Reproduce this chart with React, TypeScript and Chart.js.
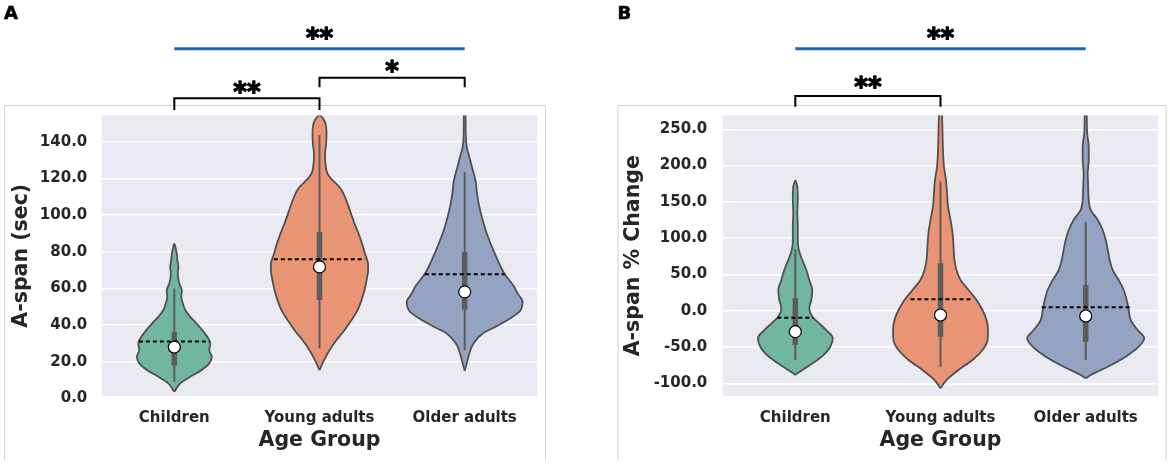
import React, { useEffect, useRef } from "react";
import { Chart, registerables } from "chart.js";

Chart.register(...registerables);

// ---------------- data ----------------
const CATEGORIES = ["Children", "Young adults", "Older adults"];
const FILL_COLORS = ["#71b6a1", "#e99575", "#95a3c3"];

const A_TICKS = [0, 20, 40, 60, 80, 100, 120, 140];
const B_TICKS = [-100, -50, 0, 50, 100, 150, 200, 250];

// Violin outlines: values and half widths (fraction of one category slot)
const A_CHILD_V = [3.6, 8.2, 11.8, 15.4, 19.1, 22.7, 26.3, 30, 33.6, 37.2, 40.9, 44.5, 48.1, 51.8, 55.4, 59, 62.7, 68.1, 71.7, 75.4, 79, 82.6, 84.5];
const A_CHILD_W = [0, 0.041, 0.11, 0.186, 0.241, 0.258, 0.241, 0.248, 0.227, 0.193, 0.152, 0.11, 0.076, 0.059, 0.048, 0.052, 0.034, 0.024, 0.028, 0.021, 0.017, 0.007, 0];
const A_YOUNG_V = [15.4, 20.9, 26.3, 31.8, 37.2, 42.7, 48.1, 53.6, 59, 64.5, 69.9, 73.6, 79, 84.5, 89.9, 95.4, 100.8, 106.3, 111.7, 115.3, 119, 122.6, 128, 133.5, 139, 144.4, 148, 151.7, 155];
const A_YOUNG_W = [0, 0.031, 0.069, 0.117, 0.172, 0.22, 0.262, 0.289, 0.31, 0.324, 0.335, 0.334, 0.313, 0.293, 0.269, 0.241, 0.217, 0.193, 0.165, 0.138, 0.09, 0.055, 0.041, 0.038, 0.046, 0.048, 0.046, 0.032, 0];
const A_OLDER_V = [15, 19.1, 24.5, 30, 35.4, 39.1, 44.5, 48.1, 52.6, 57.2, 60.8, 68.1, 75.4, 82.6, 89.9, 97.2, 104.4, 111.7, 119, 126.2, 131.7, 137.1, 144.4, 160];
const A_OLDER_W = [0, 0.014, 0.032, 0.06, 0.124, 0.213, 0.331, 0.385, 0.399, 0.365, 0.342, 0.273, 0.227, 0.188, 0.152, 0.124, 0.101, 0.085, 0.074, 0.05, 0.032, 0.014, 0.007, 0.006];

const B_CHILD_V = [-88.6, -86.3, -77.2, -67.9, -58.7, -49.6, -38, -26.6, -17.4, -8.3, 3.3, 14.7, 28.5, 42.3, 56.1, 69.9, 83.6, 97.4, 115.8, 134.2, 152.5, 170.9, 180.1];
const B_CHILD_W = [0, 0.014, 0.083, 0.152, 0.207, 0.241, 0.258, 0.213, 0.165, 0.117, 0.096, 0.11, 0.117, 0.096, 0.076, 0.048, 0.024, 0.017, 0.017, 0.014, 0.017, 0.014, 0];
const B_YOUNG_V = [-106.9, -95.5, -81.7, -67.9, -54.2, -40.4, -26.6, -12.8, 1, 14.7, 28.5, 42.3, 56.1, 69.9, 88.2, 106.7, 125, 143.3, 161.8, 180.1, 198.4, 221.4, 244.5, 275];
const B_YOUNG_W = [0, 0.041, 0.124, 0.22, 0.289, 0.324, 0.327, 0.317, 0.289, 0.248, 0.193, 0.138, 0.11, 0.096, 0.09, 0.083, 0.069, 0.052, 0.045, 0.038, 0.024, 0.017, 0.014, 0.01];
const B_OLDER_V = [-93.2, -88.6, -77.2, -63.4, -49.6, -38, -26.6, -12.8, 1, 14.7, 28.5, 42.3, 56.1, 69.9, 83.6, 97.4, 111.2, 125, 138.8, 152.5, 170.9, 189.3, 207.7, 226, 244.5, 275];
const B_OLDER_W = [0, 0.034, 0.152, 0.275, 0.365, 0.403, 0.358, 0.31, 0.296, 0.282, 0.262, 0.227, 0.186, 0.165, 0.152, 0.138, 0.117, 0.083, 0.034, 0.021, 0.017, 0.014, 0.021, 0.021, 0.01, 0.007];

// Inner box statistics
const A_WHISKER_LO = [9, 27.2, 26.3];
const A_WHISKER_HI = [60, 143.5, 123.5];
const A_Q1 = [18, 53.6, 48.5];
const A_Q3 = [36.3, 90.8, 79.9];
const A_MEDIAN = [28, 71.7, 58.1];
const A_MEAN = [31, 75.9, 67.7];
const A_MEAN_SPAN = [0.244, 0.315, 0.275];

const B_WHISKER_LO = [-68, -77.2, -68];
const B_WHISKER_HI = [85, 178, 122.6];
const B_Q1 = [-47.3, -35.8, -42.7];
const B_Q3 = [17.1, 65.3, 35.4];
const B_MEDIAN = [-28.9, -5.9, -7.3];
const B_MEAN = [-9.6, 15.7, 4.7];
const B_MEAN_SPAN = [0.124, 0.207, 0.303];

// Significance annotations
const A_SIG_FROM = [0, 1, 0];
const A_SIG_TO = [2, 2, 1];
const A_SIG_LABEL = ["**", "*", "**"];
const A_SIG_BLUE = [true, false, false];
const B_SIG_FROM = [0, 0];
const B_SIG_TO = [2, 1];
const B_SIG_LABEL = ["**", "**"];
const B_SIG_BLUE = [true, false];

// ---------------- styling / layout ----------------
const FONT = "DejaVu Sans";
const TEXT = "#262626";
const OUTLINE = "#505050";
const BOX = "#5c5c5c";
const CANVAS_W = 585;
const CANVAS_H = 465;

type Panel = {
  letter: string;
  letterX: number;
  yTitle: string;
  yMin: number;
  yMax: number;
  ticks: number[];
  yAxisWidth: number;
  yTitlePad: number;
  yTickPad: number;
  padRight: number;
  frame: { left: number; right: number; top: number; bottom: number };
  violins: { v: number[]; w: number[] }[];
  wLo: number[]; wHi: number[]; q1: number[]; q3: number[];
  median: number[]; mean: number[]; meanSpan: number[];
  sigFrom: number[]; sigTo: number[]; sigLabel: string[]; sigBlue: boolean[];
  sigLayout: { line: number; legs: number | null; text: number }[];
};

const PANEL_A: Panel = {
  letter: "A",
  letterX: 4,
  yTitle: "A-span (sec)",
  yMin: 1.3,
  yMax: 154.3,
  ticks: A_TICKS,
  yAxisWidth: 101.7,
  yTitlePad: 9.4,
  yTickPad: 14.4,
  padRight: CANVAS_W - 537.3,
  frame: { left: 4.5, right: 545.5, top: 105.5, bottom: 460 },
  violins: [
    { v: A_CHILD_V, w: A_CHILD_W },
    { v: A_YOUNG_V, w: A_YOUNG_W },
    { v: A_OLDER_V, w: A_OLDER_W },
  ],
  wLo: A_WHISKER_LO, wHi: A_WHISKER_HI, q1: A_Q1, q3: A_Q3,
  median: A_MEDIAN, mean: A_MEAN, meanSpan: A_MEAN_SPAN,
  sigFrom: A_SIG_FROM, sigTo: A_SIG_TO, sigLabel: A_SIG_LABEL, sigBlue: A_SIG_BLUE,
  sigLayout: [
    { line: 48.7, legs: null, text: 33.3 },
    { line: 77.7, legs: 87.3, text: 66 },
    { line: 98.3, legs: 110, text: 87.3 },
  ],
};

const PANEL_B: Panel = {
  letter: "B",
  letterX: 32.5,
  yTitle: "A-span % Change",
  yMin: -117.5,
  yMax: 269,
  ticks: B_TICKS,
  yAxisWidth: 137.7,
  yTitlePad: 36,
  yTickPad: 15.4,
  padRight: CANVAS_W - 573.3,
  frame: { left: 33, right: 581, top: 105.5, bottom: 460 },
  violins: [
    { v: B_CHILD_V, w: B_CHILD_W },
    { v: B_YOUNG_V, w: B_YOUNG_W },
    { v: B_OLDER_V, w: B_OLDER_W },
  ],
  wLo: B_WHISKER_LO, wHi: B_WHISKER_HI, q1: B_Q1, q3: B_Q3,
  median: B_MEDIAN, mean: B_MEAN, meanSpan: B_MEAN_SPAN,
  sigFrom: B_SIG_FROM, sigTo: B_SIG_TO, sigLabel: B_SIG_LABEL, sigBlue: B_SIG_BLUE,
  sigLayout: [
    { line: 48.7, legs: null, text: 33.3 },
    { line: 96, legs: 106.7, text: 82.7 },
  ],
};

function makeDecor(p: Panel) {
  return {
    id: "decor",
    beforeDraw(chart: any) {
      const { ctx, chartArea: ca } = chart;
      ctx.save();
      ctx.strokeStyle = "#d2d2d2";
      ctx.lineWidth = 1;
      ctx.beginPath();
      ctx.moveTo(p.frame.left, p.frame.bottom);
      ctx.lineTo(p.frame.left, p.frame.top);
      ctx.lineTo(p.frame.right, p.frame.top);
      ctx.lineTo(p.frame.right, p.frame.bottom);
      ctx.stroke();
      ctx.fillStyle = "#eaeaf2";
      ctx.fillRect(ca.left, ca.top, ca.right - ca.left, ca.bottom - ca.top);
      ctx.restore();
    },
    afterDraw(chart: any) {
      const { ctx } = chart;
      const xs = chart.scales.x;
      ctx.save();
      // panel letter
      ctx.fillStyle = "#000";
      ctx.strokeStyle = "#000";
      ctx.lineWidth = 0.6;
      ctx.font = `bold 18px "${FONT}"`;
      ctx.textAlign = "left";
      ctx.textBaseline = "alphabetic";
      ctx.fillText(p.letter, p.letterX, 18.6);
      ctx.strokeText(p.letter, p.letterX, 18.6);
      // significance marks
      p.sigFrom.forEach((from, k) => {
        const to = p.sigTo[k];
        const lay = p.sigLayout[k];
        const x1 = xs.getPixelForValue(from);
        const x2 = xs.getPixelForValue(to);
        const blue = p.sigBlue[k];
        ctx.strokeStyle = blue ? "#1f66b8" : "#000";
        ctx.lineWidth = blue ? 3 : 2;
        ctx.lineCap = "butt";
        ctx.lineJoin = "miter";
        ctx.beginPath();
        if (lay.legs != null) {
          ctx.moveTo(x1, lay.legs);
          ctx.lineTo(x1, lay.line);
          ctx.lineTo(x2, lay.line);
          ctx.lineTo(x2, lay.legs);
        } else {
          ctx.moveTo(x1, lay.line);
          ctx.lineTo(x2, lay.line);
        }
        ctx.stroke();
        ctx.font = `bold 26px "${FONT}"`;
        ctx.textAlign = "center";
        const label = p.sigLabel[k];
        const m = ctx.measureText(label);
        const base = lay.text + (m.actualBoundingBoxAscent - m.actualBoundingBoxDescent) / 2;
        ctx.fillStyle = "#000";
        ctx.strokeStyle = "#000";
        ctx.lineWidth = 1.3;
        ctx.lineJoin = "round";
        ctx.fillText(label, (x1 + x2) / 2, base);
        ctx.strokeText(label, (x1 + x2) / 2, base);
      });
      ctx.restore();
    },
  };
}

function buildConfig(p: Panel): any {
  const datasets: any[] = [];
  // median markers (drawn on top)
  datasets.push({
    data: p.median.map((y, i) => ({ x: i, y })),
    showLine: false,
    pointRadius: 6,
    pointBackgroundColor: "#ffffff",
    pointBorderColor: "#000000",
    pointBorderWidth: 1.2,
    order: 1,
  });
  p.mean.forEach((m, i) => {
    datasets.push({
      data: [
        { x: i - p.meanSpan[i], y: m },
        { x: i + p.meanSpan[i], y: m },
      ],
      borderColor: "#000",
      borderWidth: 2,
      borderDash: [4, 3],
      pointRadius: 0,
      order: 2,
    });
  });
  p.q1.forEach((q, i) => {
    datasets.push({
      data: [
        { x: i, y: q },
        { x: i, y: p.q3[i] },
      ],
      borderColor: BOX,
      borderWidth: 5.5,
      pointRadius: 0,
      order: 3,
    });
  });
  p.wLo.forEach((lo, i) => {
    datasets.push({
      data: [
        { x: i, y: lo },
        { x: i, y: p.wHi[i] },
      ],
      borderColor: BOX,
      borderWidth: 2,
      pointRadius: 0,
      order: 4,
    });
  });
  p.violins.forEach((vi, i) => {
    datasets.push({
      data: vi.v.map((y, k) => ({ x: i + vi.w[k], y })),
      borderColor: OUTLINE,
      borderWidth: 1.8,
      pointRadius: 0,
      fill: false,
      cubicInterpolationMode: "monotone",
      order: 5,
    });
    const rightIdx = datasets.length - 1;
    datasets.push({
      data: vi.v.map((y, k) => ({ x: i - vi.w[k], y })),
      borderColor: OUTLINE,
      borderWidth: 1.8,
      pointRadius: 0,
      fill: rightIdx,
      backgroundColor: FILL_COLORS[i],
      cubicInterpolationMode: "monotone",
      order: 5,
    });
  });

  const tickFont = { family: FONT, size: 15, weight: "bold" as const };
  const titleFont = { family: FONT, size: 20.5, weight: "bold" as const };

  return {
    type: "line",
    data: { datasets },
    options: {
      animation: false,
      responsive: false,
      events: [],
      indexAxis: "y",
      layout: { padding: { top: 115.5, right: p.padRight, bottom: 0, left: 0 } },
      plugins: {
        legend: { display: false },
        tooltip: { enabled: false },
        filler: { drawTime: "beforeDatasetsDraw" },
      },
      scales: {
        x: {
          type: "linear",
          min: -0.5,
          max: 2.5,
          bounds: "data",
          afterBuildTicks: (s: any) => {
            s.ticks = CATEGORIES.map((_, i) => ({ value: i }));
          },
          afterFit: (s: any) => {
            s.height = 69;
          },
          grid: { display: false, drawTicks: false },
          border: { display: false },
          ticks: {
            autoSkip: false,
            maxRotation: 0,
            padding: 12.7,
            font: tickFont,
            color: TEXT,
            callback: (v: any) => CATEGORIES[Math.round(Number(v))],
          },
          title: {
            display: true,
            text: "Age Group",
            font: titleFont,
            color: TEXT,
            padding: { top: 0, bottom: 11.7 },
          },
        },
        y: {
          type: "linear",
          min: p.yMin,
          max: p.yMax,
          bounds: "data",
          afterBuildTicks: (s: any) => {
            s.ticks = p.ticks.map((v) => ({ value: v }));
          },
          afterFit: (s: any) => {
            s.width = p.yAxisWidth;
          },
          grid: { color: "#ffffff", lineWidth: 1.5, drawTicks: false },
          border: { display: false },
          ticks: {
            autoSkip: false,
            padding: p.yTickPad,
            font: tickFont,
            color: TEXT,
            callback: (v: any) => Number(v).toFixed(1),
          },
          title: {
            display: true,
            text: p.yTitle,
            font: titleFont,
            color: TEXT,
            padding: { top: p.yTitlePad, bottom: 0 },
          },
        },
      },
    },
    plugins: [makeDecor(p)],
  };
}

function PanelChart({ panel, left }: { panel: Panel; left: number }) {
  const ref = useRef<HTMLCanvasElement | null>(null);
  useEffect(() => {
    if (!ref.current) return;
    const chart = new Chart(ref.current, buildConfig(panel));
    return () => chart.destroy();
  }, [panel]);
  return (
    <canvas
      ref={ref}
      width={CANVAS_W}
      height={CANVAS_H}
      style={{ position: "absolute", left, top: 0, width: CANVAS_W, height: CANVAS_H, display: "block" }}
    />
  );
}

export default function App() {
  return (
    <div
      style={{
        position: "fixed",
        left: 0,
        top: 0,
        width: 1170,
        height: 465,
        background: "#ffffff",
        overflow: "hidden",
      }}
    >
      <PanelChart panel={PANEL_A} left={0} />
      <PanelChart panel={PANEL_B} left={585} />
    </div>
  );
}
